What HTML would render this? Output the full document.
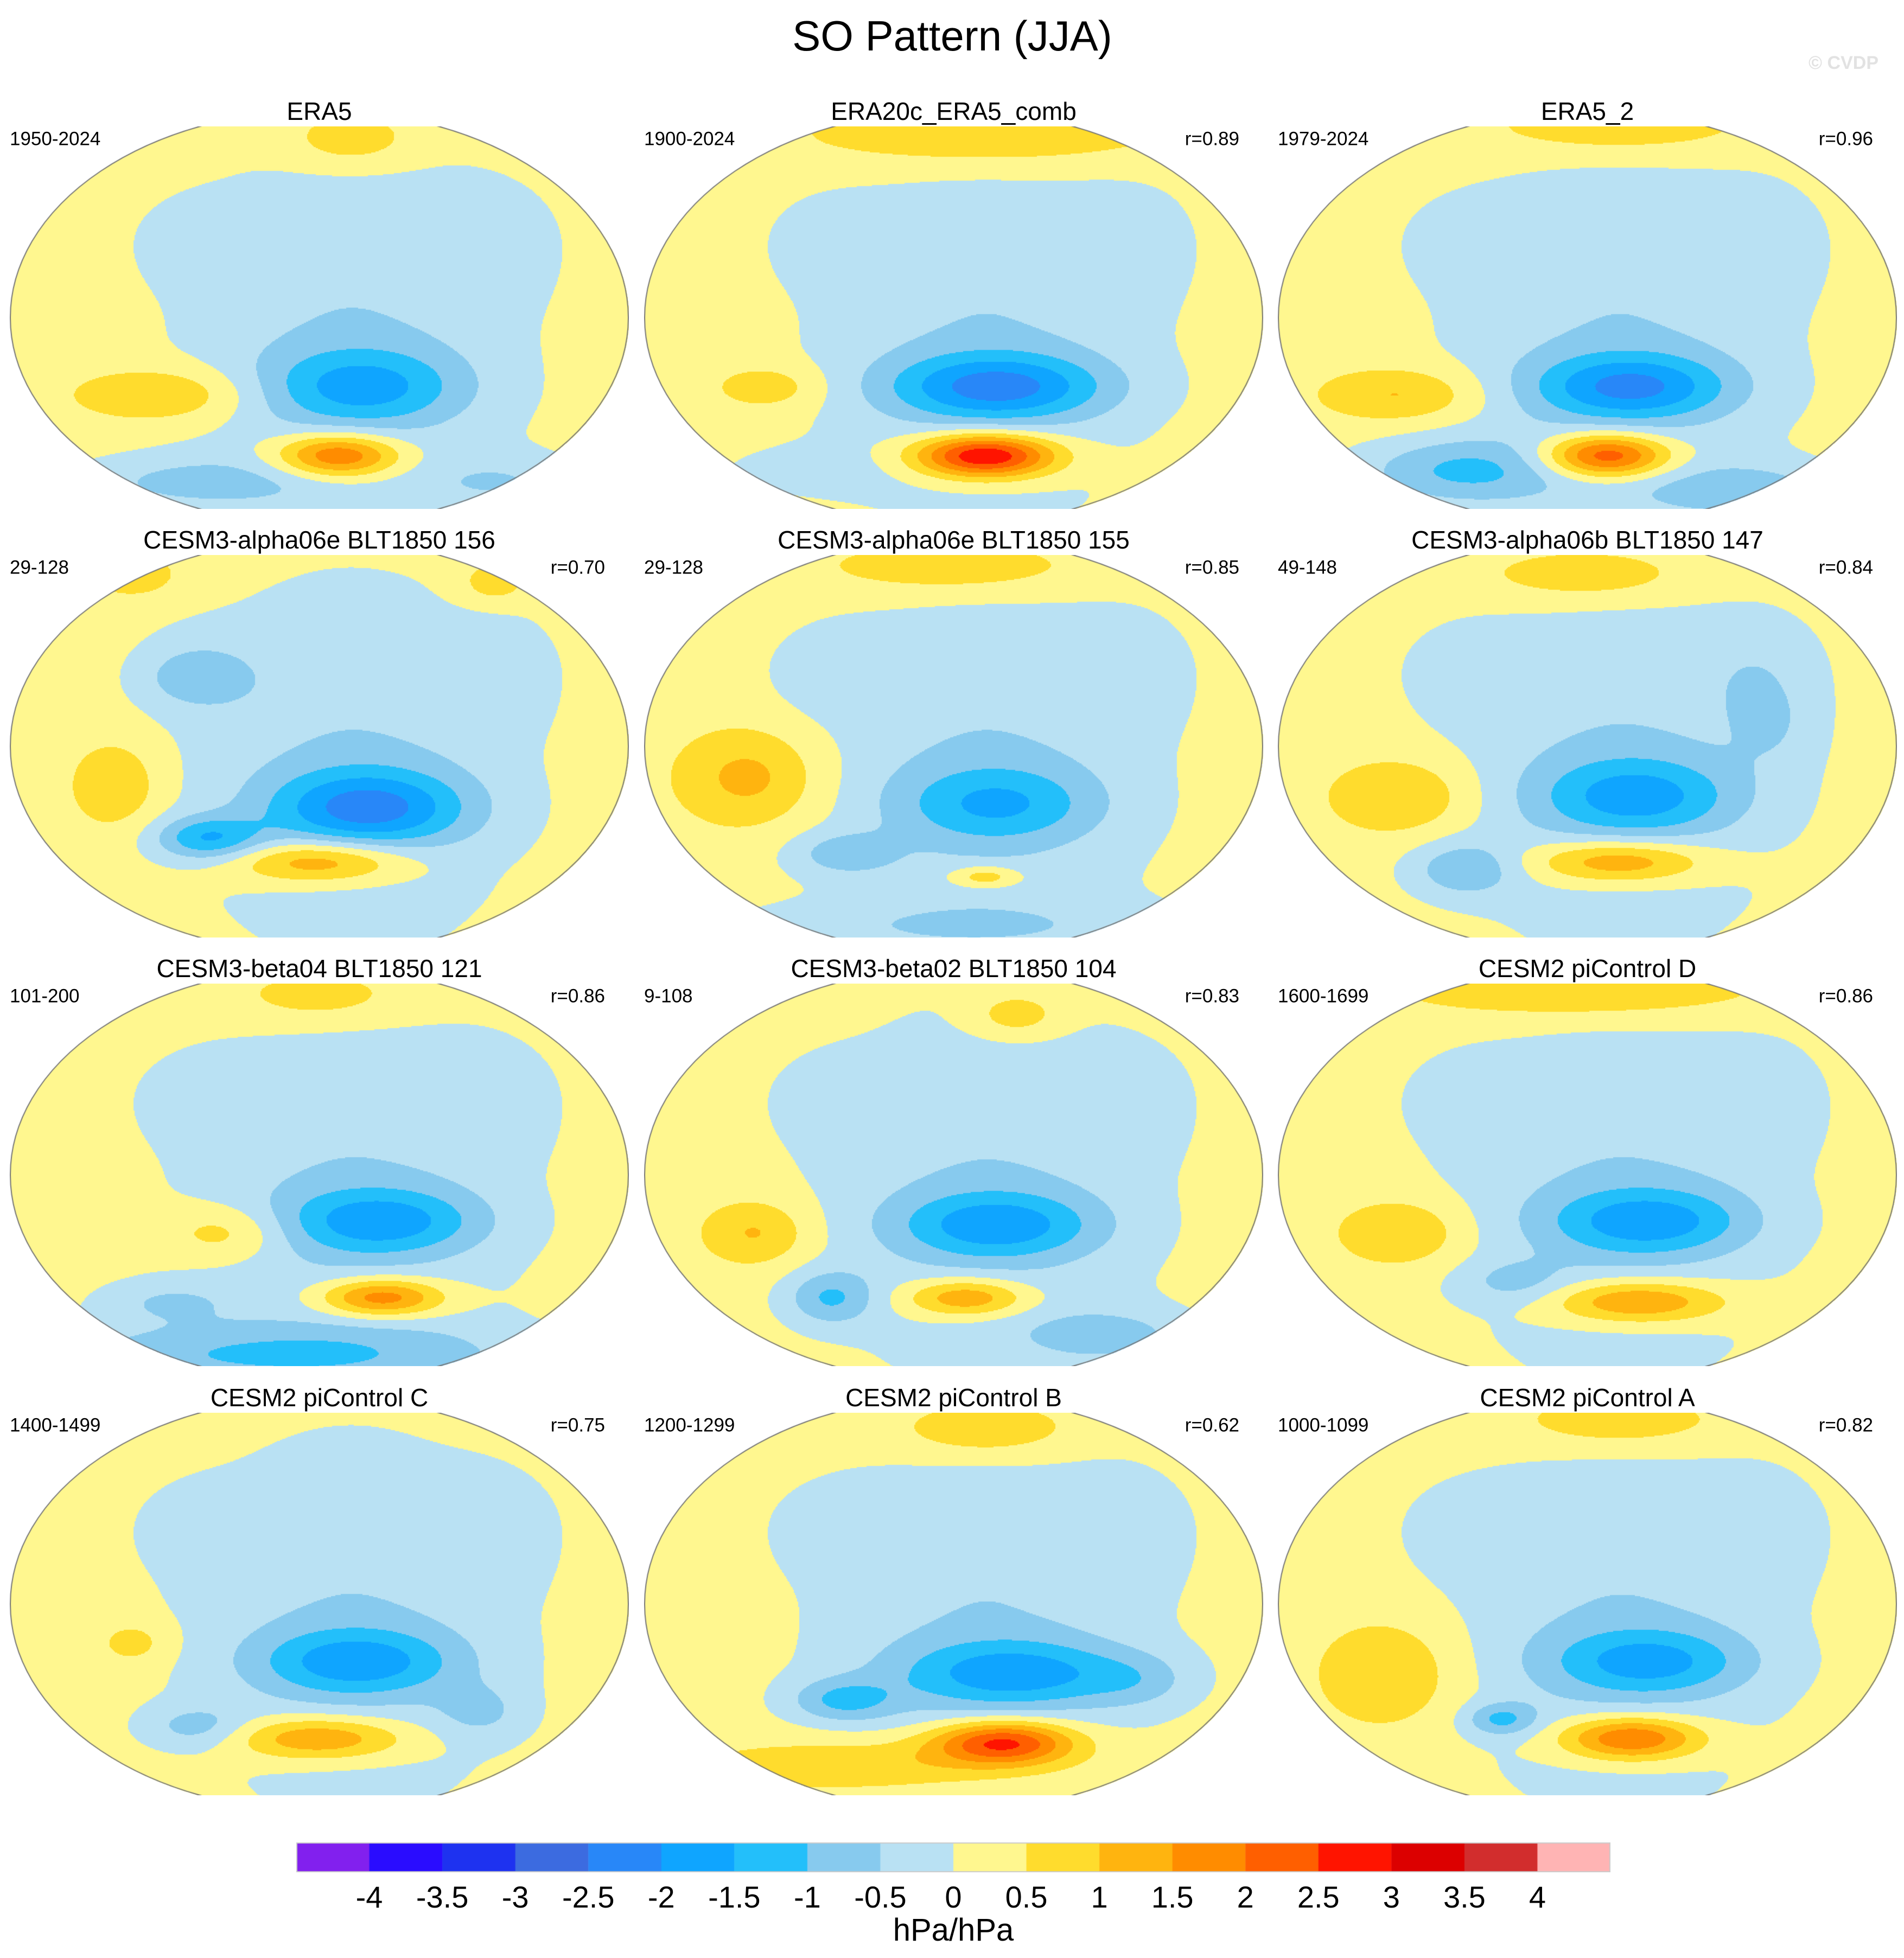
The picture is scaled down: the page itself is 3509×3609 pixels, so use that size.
<!DOCTYPE html>
<html><head><meta charset="utf-8">
<style>
html,body{margin:0;padding:0;background:#fff;}
body{width:3509px;height:3609px;position:relative;overflow:hidden;font-family:"Liberation Sans",sans-serif;}
.t{position:absolute;white-space:nowrap;color:#000;line-height:1;}
.ttl{font-size:46px;transform:translate(-50%,-50%);}
.sm{font-size:35px;transform:translateY(-50%);}
.rr{font-size:35px;transform:translate(-100%,-50%);}
canvas{position:absolute;}
.cb{font-size:56px;transform:translate(-50%,-50%);}
</style></head>
<body>
<div class="t" style="left:1755px;top:66px;font-size:78px;transform:translate(-50%,-50%);">SO Pattern (JJA)</div>
<div class="t" style="left:3462px;top:116px;font-size:34px;color:#e2e2e2;font-weight:bold;transform:translate(-100%,-50%);">© CVDP</div>
<div id="panels"></div>
<canvas id="cbar" width="2422" height="55" style="left:546px;top:3396px;"></canvas>
<div id="cblabels"></div>
<div class="t" style="left:1757px;top:3558px;font-size:58px;transform:translate(-50%,-50%);">hPa/hPa</div>
<script>
const levelColors=["#8220EE","#2A0CFF","#1E32F0","#3C6BE0","#2887F8","#0FA5FF","#23BFFA","#87CAEE","#B9E1F3","#FFF78F","#FFDC2D","#FFB40F","#FF8C00","#FF5F00","#FF1400","#DC0000","#D22D2D","#FFB4B4"];
const tickLabels=["-4","-3.5","-3","-2.5","-2","-1.5","-1","-0.5","0","0.5","1","1.5","2","2.5","3","3.5","4"];
const panelTitles=["ERA5","ERA20c_ERA5_comb","ERA5_2","CESM3-alpha06e BLT1850 156","CESM3-alpha06e BLT1850 155","CESM3-alpha06b BLT1850 147","CESM3-beta04 BLT1850 121","CESM3-beta02 BLT1850 104","CESM2 piControl D","CESM2 piControl C","CESM2 piControl B","CESM2 piControl A"];
const panelPeriods=["1950-2024","1900-2024","1979-2024","29-128","29-128","49-148","101-200","9-108","1600-1699","1400-1499","1200-1299","1000-1099"];
const panelCorr=["","r=0.89","r=0.96","r=0.70","r=0.85","r=0.84","r=0.86","r=0.83","r=0.86","r=0.75","r=0.62","r=0.82"];
const baseValue=0.25;
// shared anomalies [u, v, amplitude, su, sv]
const commonField=[[0.55,0.55,-0.75,0.2,0.35],[0.78,0.3,-0.4,0.07,0.1],[0.3,0.3,-0.35,0.07,0.08]];
const fieldERA5=[[0.57,0.68,-1.4,0.11,0.07],[0.53,0.86,2.2,0.07,0.04],[0.25,0.7,0.9,0.1,0.05],[0.3,0.93,-0.8,0.15,0.05],[0.8,0.93,-0.6,0.1,0.05],[0.55,0.03,0.8,0.07,0.05]];
const fieldERA20c=[[0.57,0.68,-1.9,0.12,0.06],[0.55,0.86,3.2,0.08,0.04],[0.2,0.68,0.7,0.06,0.04],[0.25,0.9,-0.3,0.12,0.05],[0.55,0.02,0.9,0.2,0.06]];
const fieldERA5b=[[0.57,0.68,-1.8,0.11,0.06],[0.53,0.86,2.6,0.07,0.04],[0.2,0.7,0.9,0.09,0.05],[0.3,0.9,-1.2,0.12,0.06],[0.75,0.95,-0.9,0.12,0.05],[0.55,0.0,0.8,0.15,0.05]];
const fieldA156=[[0.58,0.66,-1.9,0.11,0.07],[0.32,0.74,-1.5,0.06,0.04],[0.5,0.8,1.6,0.1,0.04],[0.17,0.6,0.8,0.05,0.08],[0.3,0.32,-0.6,0.06,0.05],[0.2,0.05,0.7,0.05,0.04],[0.78,0.07,0.7,0.04,0.04]];
const fieldA155=[[0.57,0.65,-1.2,0.11,0.07],[0.17,0.58,1.0,0.08,0.09],[0.32,0.78,-0.8,0.06,0.04],[0.5,0.97,-0.5,0.3,0.05],[0.5,0.03,0.8,0.15,0.05],[0.55,0.84,1.0,0.04,0.02]];
const fieldA147=[[0.58,0.63,-1.4,0.11,0.07],[0.2,0.63,0.9,0.08,0.07],[0.55,0.8,1.6,0.1,0.04],[0.3,0.82,-1.0,0.06,0.05],[0.5,0.05,0.8,0.12,0.05],[0.8,0.45,-0.4,0.05,0.08]];
const fieldB04=[[0.6,0.62,-1.5,0.11,0.06],[0.6,0.82,2.0,0.07,0.035],[0.4,0.97,-1.1,0.3,0.06],[0.35,0.65,0.8,0.07,0.05],[0.25,0.83,-0.6,0.08,0.04],[0.5,0.03,0.7,0.1,0.05]];
const fieldB02=[[0.57,0.63,-1.5,0.11,0.06],[0.52,0.82,1.6,0.07,0.035],[0.3,0.82,-1.1,0.05,0.05],[0.75,0.92,-0.8,0.1,0.05],[0.18,0.65,0.9,0.06,0.06],[0.6,0.08,0.8,0.05,0.04]];
const fieldPiD=[[0.6,0.62,-1.5,0.11,0.06],[0.58,0.83,1.7,0.1,0.04],[0.2,0.65,0.9,0.07,0.06],[0.38,0.78,-0.6,0.06,0.04],[0.5,0.02,0.9,0.2,0.05]];
const fieldPiC=[[0.56,0.65,-1.5,0.11,0.06],[0.5,0.85,1.6,0.1,0.04],[0.3,0.82,-0.8,0.06,0.04],[0.76,0.78,-0.6,0.05,0.05],[0.2,0.6,0.6,0.04,0.04]];
const fieldPiB=[[0.6,0.68,-1.5,0.13,0.06],[0.58,0.86,2.6,0.08,0.04],[0.32,0.75,-1.1,0.06,0.04],[0.4,0.92,0.9,0.2,0.05],[0.55,0.04,0.9,0.1,0.05],[0.8,0.7,-0.5,0.06,0.05]];
const fieldPiA=[[0.6,0.65,-1.4,0.11,0.06],[0.57,0.85,2.2,0.08,0.04],[0.36,0.8,-1.1,0.04,0.03],[0.18,0.68,0.8,0.08,0.1],[0.55,0.02,0.8,0.12,0.05]];
const panelFields=[fieldERA5,fieldERA20c,fieldERA5b,fieldA156,fieldA155,fieldA147,fieldB04,fieldB02,fieldPiD,fieldPiC,fieldPiB,fieldPiA];

const colLeft=[18,1187,2355], rowTop=[233,1023,1813,2604], PW=1141, PH=705;
function hex(c){return [parseInt(c.slice(1,3),16),parseInt(c.slice(3,5),16),parseInt(c.slice(5,7),16)];}
const rgb=levelColors.map(hex);
function colorIndex(v){let i=Math.floor(v/0.5)+9;return Math.max(0,Math.min(17,i));}
const host=document.getElementById('panels');
panelFields.forEach((field,p)=>{
  const L=colLeft[p%3], T=rowTop[Math.floor(p/3)];
  const ti=document.createElement('div');ti.className='t ttl';ti.textContent=panelTitles[p];
  ti.style.left=(L+PW/2)+'px';ti.style.top=(T-28)+'px';
  
  
  host.appendChild(ti);
  const pe=document.createElement('div');pe.className='t sm';pe.textContent=panelPeriods[p];
  pe.style.left=(L)+'px';pe.style.top=(T+23)+'px';
  
  
  host.appendChild(pe);
  if(panelCorr[p]){const r=document.createElement('div');r.className='t rr';r.textContent=panelCorr[p];
    r.style.left=(L+PW-44)+'px';r.style.top=(T+23)+'px';
    
    
    host.appendChild(r);}
  const cv=document.createElement('canvas');cv.width=PW;cv.height=PH;
  cv.style.left=L+'px';cv.style.top=T+'px';
  
  
  host.appendChild(cv);
  const ctx=cv.getContext('2d');
  const img=ctx.createImageData(PW,PH);
  const a=PW/2, b=PH/2/0.92, cx=PW/2, cy=PH/2;
  const all=commonField.concat(field);
  const st=2;
  for(let y=0;y<PH;y+=st){for(let x=0;x<PW;x+=st){
    const dx=(x-cx)/a, dy=(y-cy)/b; if(dx*dx+dy*dy>1.01) continue;
    const u=x/PW, v=y/PH; let val=baseValue;
    for(const g of all){const du=(u-g[0])/g[3], dv=(v-g[1])/g[4]; val+=g[2]*Math.exp(-0.5*(du*du+dv*dv));}
    const c=rgb[colorIndex(val)];
    for(let yy=y;yy<Math.min(y+st,PH);yy++)for(let xx=x;xx<Math.min(x+st,PW);xx++){
      const ex=(xx-cx)/a, ey=(yy-cy)/b; if(ex*ex+ey*ey>1) continue;
      const k=(yy*PW+xx)*4; img.data[k]=c[0];img.data[k+1]=c[1];img.data[k+2]=c[2];img.data[k+3]=255;}
  }}
  ctx.putImageData(img,0,0);
  ctx.save();ctx.beginPath();ctx.rect(0,0,PW,PH);ctx.clip();
  ctx.beginPath();ctx.ellipse(cx,cy,a-1,b-1,0,0,Math.PI*2);ctx.strokeStyle='#777';ctx.lineWidth=2;ctx.stroke();
  ctx.restore();
});
// colorbar
const cb=document.getElementById('cbar').getContext('2d');
const bw=2422/levelColors.length;
levelColors.forEach((c,i)=>{cb.fillStyle=c;cb.fillRect(i*bw,0,bw+0.5,55);});
cb.strokeStyle='#ccc';cb.lineWidth=2;cb.strokeRect(1,1,2420,53);
const lh=document.getElementById('cblabels');
tickLabels.forEach((t,i)=>{const d=document.createElement('div');d.className='t cb';d.textContent=t;
  d.style.left=(546+(i+1)*bw)+'px';d.style.top='3497px';
  
  
  lh.appendChild(d);});
</script>
</body></html>
